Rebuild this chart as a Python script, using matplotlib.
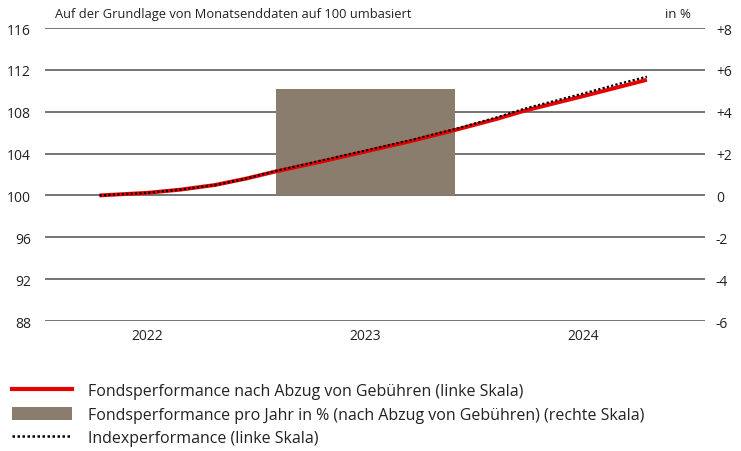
import matplotlib
matplotlib.use("Agg")
import matplotlib.pyplot as plt
from matplotlib.lines import Line2D
from matplotlib.patches import Patch

plt.rcParams['font.family'] = ['Open Sans', 'DejaVu Sans']

# Monatsenddaten (Position in Jahren), auf 100 umbasiert
zeit = [2022.28, 2022.5, 2022.65, 2022.81, 2022.95, 2023.09, 2023.29, 2023.5,
        2023.71, 2023.91, 2024.1, 2024.23, 2024.5, 2024.65, 2024.79]
fonds = [100.0, 100.25, 100.55, 101.0, 101.6, 102.3, 103.2, 104.2,
         105.2, 106.25, 107.3, 108.1, 109.5, 110.3, 111.05]
index = [100.0, 100.25, 100.55, 101.0, 101.6, 102.35, 103.3, 104.3,
         105.3, 106.35, 107.45, 108.3, 109.75, 110.6, 111.35]

# Jahresperformance in % (rechte Skala)
jahre = [2023.5]
jahr_perf = [5.1]

jahr_ticks = [2022.5, 2023.5, 2024.5]
jahr_labels = ['2022', '2023', '2024']
links_ticks = [88, 92, 96, 100, 104, 108, 112, 116]
rechts_ticks = [-6, -4, -2, 0, 2, 4, 6, 8]
rechts_labels = ['-6', '-4', '-2', '0', '+2', '+4', '+6', '+8']

rot = '#e60000'
braun = '#8a7d6e'
grau = '#6a6a6a'

fig = plt.figure(figsize=(7.41, 4.52), dpi=100)
ax = fig.add_axes([0.0607, 0.2876, 0.8903, 0.6482])
ax2 = ax.twinx()

# Balken und Gitter auf der rechten Achse (unten)
ax2.bar(jahre, jahr_perf, width=0.82, color=braun, zorder=2)
ax2.set_ylim(-6, 8)
ax2.set_yticks(rechts_ticks)
ax2.set_yticklabels(rechts_labels)
ax2.grid(axis='y', color=grau, linewidth=1.3, zorder=0)
ax2.set_axisbelow(True)

# Linien auf der linken Achse (oben)
ax.set_zorder(ax2.get_zorder() + 1)
ax.patch.set_visible(False)
ax.plot(zeit, fonds, color=rot, linewidth=2.8, solid_capstyle='butt')
ax.plot(zeit, index, color='black', linewidth=1.6, linestyle=(0, (1, 1)))
ax.set_ylim(88, 116)
ax.set_yticks(links_ticks)
ax.set_xlim(2022.03, 2025.055)
ax.set_xticks(jahr_ticks)
ax.set_xticklabels(jahr_labels)

for a in (ax, ax2):
    for s in a.spines.values():
        s.set_visible(False)
    a.tick_params(length=0, labelsize=10, colors='#222222')
ax.tick_params(axis='y', pad=10)
ax2.tick_params(axis='y', pad=8)
ax.tick_params(axis='x', pad=5)

fig.text(0.074, 0.967, 'Auf der Grundlage von Monatsenddaten auf 100 umbasiert',
         fontsize=9.3, color='#222222', va='center')
fig.text(0.932, 0.967, 'in %', fontsize=9.5, color='#222222', va='center', ha='right')

handles = [Line2D([], [], color=rot, linewidth=3),
           Patch(facecolor=braun, edgecolor='none'),
           Line2D([], [], color='black', linewidth=1.8, linestyle=(0, (1, 1)))]
labels = ['Fondsperformance nach Abzug von Gebühren (linke Skala)',
          'Fondsperformance pro Jahr in % (nach Abzug von Gebühren) (rechte Skala)',
          'Indexperformance (linke Skala)']
fig.legend(handles, labels, loc='upper left', bbox_to_anchor=(0.016, 0.151),
           frameon=False, fontsize=11.5, handlelength=3.75, handleheight=0.9,
           handletextpad=1.0, labelspacing=0.48, borderpad=0, borderaxespad=0,
           labelcolor='#222222')

fig.savefig('out.png', dpi=100)
